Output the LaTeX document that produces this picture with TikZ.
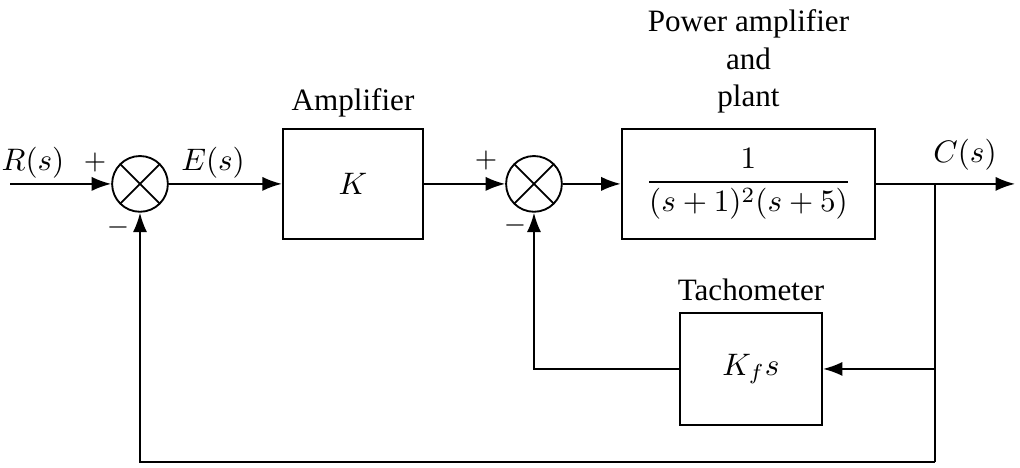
\documentclass[tikz,border=0pt]{standalone}
\usepackage{amsmath}
\usepackage{fontspec}
\setmainfont{Liberation Serif}
\usetikzlibrary{arrows.meta,positioning}

\begin{document}
\begin{tikzpicture}[
    blockbox/.style={draw, thick, minimum width=#1, minimum height=1.24cm, inner sep=2pt},
    sumjunct/.style={draw, semithick, circle, minimum size=0.63cm, inner sep=0pt,
      path picture={
        \draw[semithick] (path picture bounding box.north west) -- (path picture bounding box.south east);
        \draw[semithick] (path picture bounding box.north east) -- (path picture bounding box.south west);
      }},
    sig/.style={semithick, -{Latex[length=2.2mm,width=1.6mm]}},
    wire/.style={semithick}
  ]

  % Coordinates: main signal line at y=3.21, bottom return at y=0.07
  \useasboundingbox (0,0) rectangle (11.526,5.288);

  % ---- (1) summing junctions ----
  \node[sumjunct] (sumA) at (1.582,3.21) {};
  \node[sumjunct] (sumB) at (6.034,3.21) {};

  % ---- (2) blocks ----
  \node[blockbox=1.58cm] (amp) at (3.989,3.21) {$K$};
  \node[blockbox=2.86cm] (plant) at (8.458,3.21) {$\dfrac{1}{(s+1)^2(s+5)}$};
  \node[blockbox=1.60cm, minimum height=1.27cm] (tacho) at (8.486,1.119) {$K_f s$};

  % ---- (3) block titles ----
  \node[above=0cm of amp] (ampTitle) {Amplifier};
  \node[above=0.04cm of plant, align=center] (plantTitle)
    {Power amplifier\\and\\plant};
  \node[above=0cm of tacho] (tachoTitle) {Tachometer};

  % ---- (4) end points and branch ----
  \coordinate (inR) at (0.113,3.21);
  \coordinate (outC) at (11.47,3.21);
  \coordinate (branch) at (10.566,3.21);
  \coordinate (bottom) at (10.566,0.068);

  % ---- (5) forward path ----
  \draw[sig] (inR) -- (sumA.west);
  \draw[sig] (sumA.east) -- (amp.west);
  \draw[sig] (amp.east) -- (sumB.west);
  \draw[sig] (sumB.east) -- (plant.west);
  \draw[sig] (plant.east) -- (outC);

  % ---- (6) feedback loops ----
  \draw[sig] (branch) |- (tacho.east);
  \draw[sig] (tacho.west) -| (sumB.south);
  \draw[wire] (branch) -- (bottom);
  \draw[sig] (bottom) -| (sumA.south);

  % ---- (7) signal labels and signs ----
  \node (lblR) at (0.373,3.447) {$R(s)$};
  \node (lblE) at (2.407,3.447) {$E(s)$};
  \node (lblC) at (10.905,3.537) {$C(s)$};
  \node (plusA) at (1.074,3.447) {\small $+$};
  \node (minusA) at (1.333,2.712) {\small $-$};
  \node (plusB) at (5.492,3.469) {\small $+$};
  \node (minusB) at (5.82,2.735) {\small $-$};

\end{tikzpicture}
\end{document}
